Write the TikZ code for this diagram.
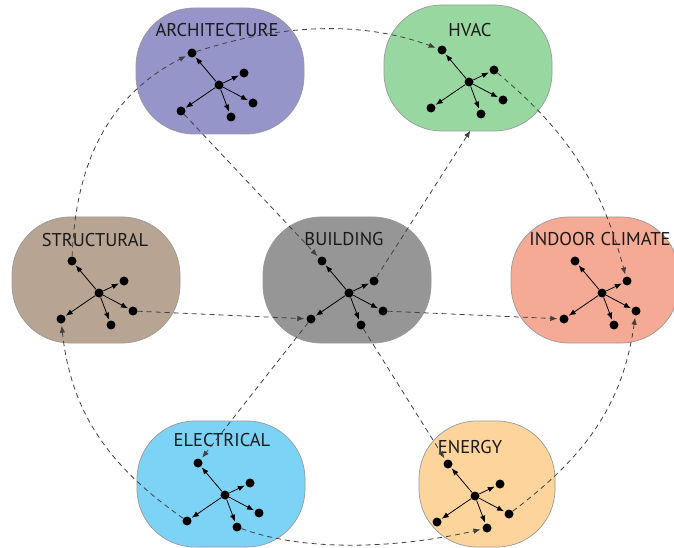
\documentclass[tikz,border=0pt]{standalone}
\usepackage{fontspec}
\setmainfont{PT Sans}
\usetikzlibrary{shapes.geometric,arrows.meta,positioning}

\definecolor{archcol}{RGB}{149,149,201}
\definecolor{hvaccol}{RGB}{152,216,160}
\definecolor{structcol}{RGB}{184,164,147}
\definecolor{buildcol}{RGB}{150,150,150}
\definecolor{indoorcol}{RGB}{245,170,150}
\definecolor{eleccol}{RGB}{125,211,245}
\definecolor{energycol}{RGB}{252,212,156}

\newcommand{\hubstar}[2]{%
  \node(#1c)[dot] at (#2) {};
  \foreach \s/\dx/\dy in {ul/-27/32,ru/25/12,r/34/-18,b/12/-32,l/-38/-26}{
    \node(#1\s)[dot] at ([shift={(\dx,\dy)}]#1c) {};
    \draw [spoke] (#1c)--(#1\s);
  }
}

\begin{document}
\begin{tikzpicture}[x=1pt,y=1pt]

      \tikzstyle{blob}=[rectangle,rounded corners=58pt,
        minimum width=168pt,minimum height=126pt,
        draw=gray!80,line width=0.7pt]
      \tikzstyle{title}=[font=\fontsize{18.5}{20}\selectfont,text=black!90]
      \tikzstyle{dot}=[circle,fill=black,inner sep=0pt,minimum size=9pt]
      \tikzstyle{spoke}=[line width=0.8pt,
        -{Latex[length=7pt,width=5.5pt]},shorten >=1pt]
      \tikzstyle{link}=[dash pattern=on 5pt off 4pt,line width=0.8pt,
        black!75,-{Latex[length=7pt,width=5.5pt]},shorten >=2pt]

      \useasboundingbox (0,0) rectangle (674,547);

      \foreach \n/\x/\y/\w/\c in {ARCH/220/476/168/archcol,
        HVAC/468/479/168/hvaccol,STRUCT/96/267/168/structcol,
        BUILD/347/267/168/buildcol,INDOOR/595/267/168/indoorcol,
        ELEC/221/63/168/eleccol,ENERGY/487/63/136/energycol}
        \node(\n)[blob,fill=\c,minimum width=\w pt] at (\x,\y) {};

      \node(ARCHtxt)[title] at (217,517) {ARCHITECTURE};
      \node(HVACtxt)[title] at (470,517) {HVAC};
      \node(STRUCTtxt)[title] at (95,307) {STRUCTURAL};
      \node(BUILDtxt)[title] at (344,308) {BUILDING};
      \node(INDOORtxt)[title] at (600,308) {INDOOR CLIMATE};
      \node(ELECtxt)[title] at (222,107) {ELECTRICAL};
      \node(ENERGYtxt)[title] at (470,100) {ENERGY};

      \hubstar{ARCH}{219,462}
      \hubstar{HVAC}{469,465}
      \hubstar{STRUCT}{99,254}
      \hubstar{BUILD}{349,254}
      \hubstar{INDOOR}{602,254}
      \hubstar{ELEC}{225,52}
      \hubstar{ENERGY}{475,51}

      \draw [link] (STRUCTul) to[out=88,in=207] (ARCHul);
      \draw [link] (ARCHul) to[out=18,in=160,looseness=0.9] (HVACul);
      \draw [link] (HVACru) to[out=-40,in=105] (INDOORru);
      \draw [link] (ENERGYr) to[out=37,in=262] (INDOORr);
      \draw [link] (ELECb) to[out=-20,in=193,looseness=0.8] (ENERGYb);
      \draw [link] (ELECl) to[out=145,in=276] (STRUCTl);

      \draw [link] (ARCHl)--(BUILDul);
      \draw [link,shorten >=15pt] (BUILDru)--(HVACb);
      \draw [link] (STRUCTr)--(BUILDl);
      \draw [link] (BUILDr)--(INDOORl);
      \draw [link] (BUILDl)--(ELECul);
      \draw [link] (BUILDb)--(ENERGYul);

    \end{tikzpicture}
\end{document}
